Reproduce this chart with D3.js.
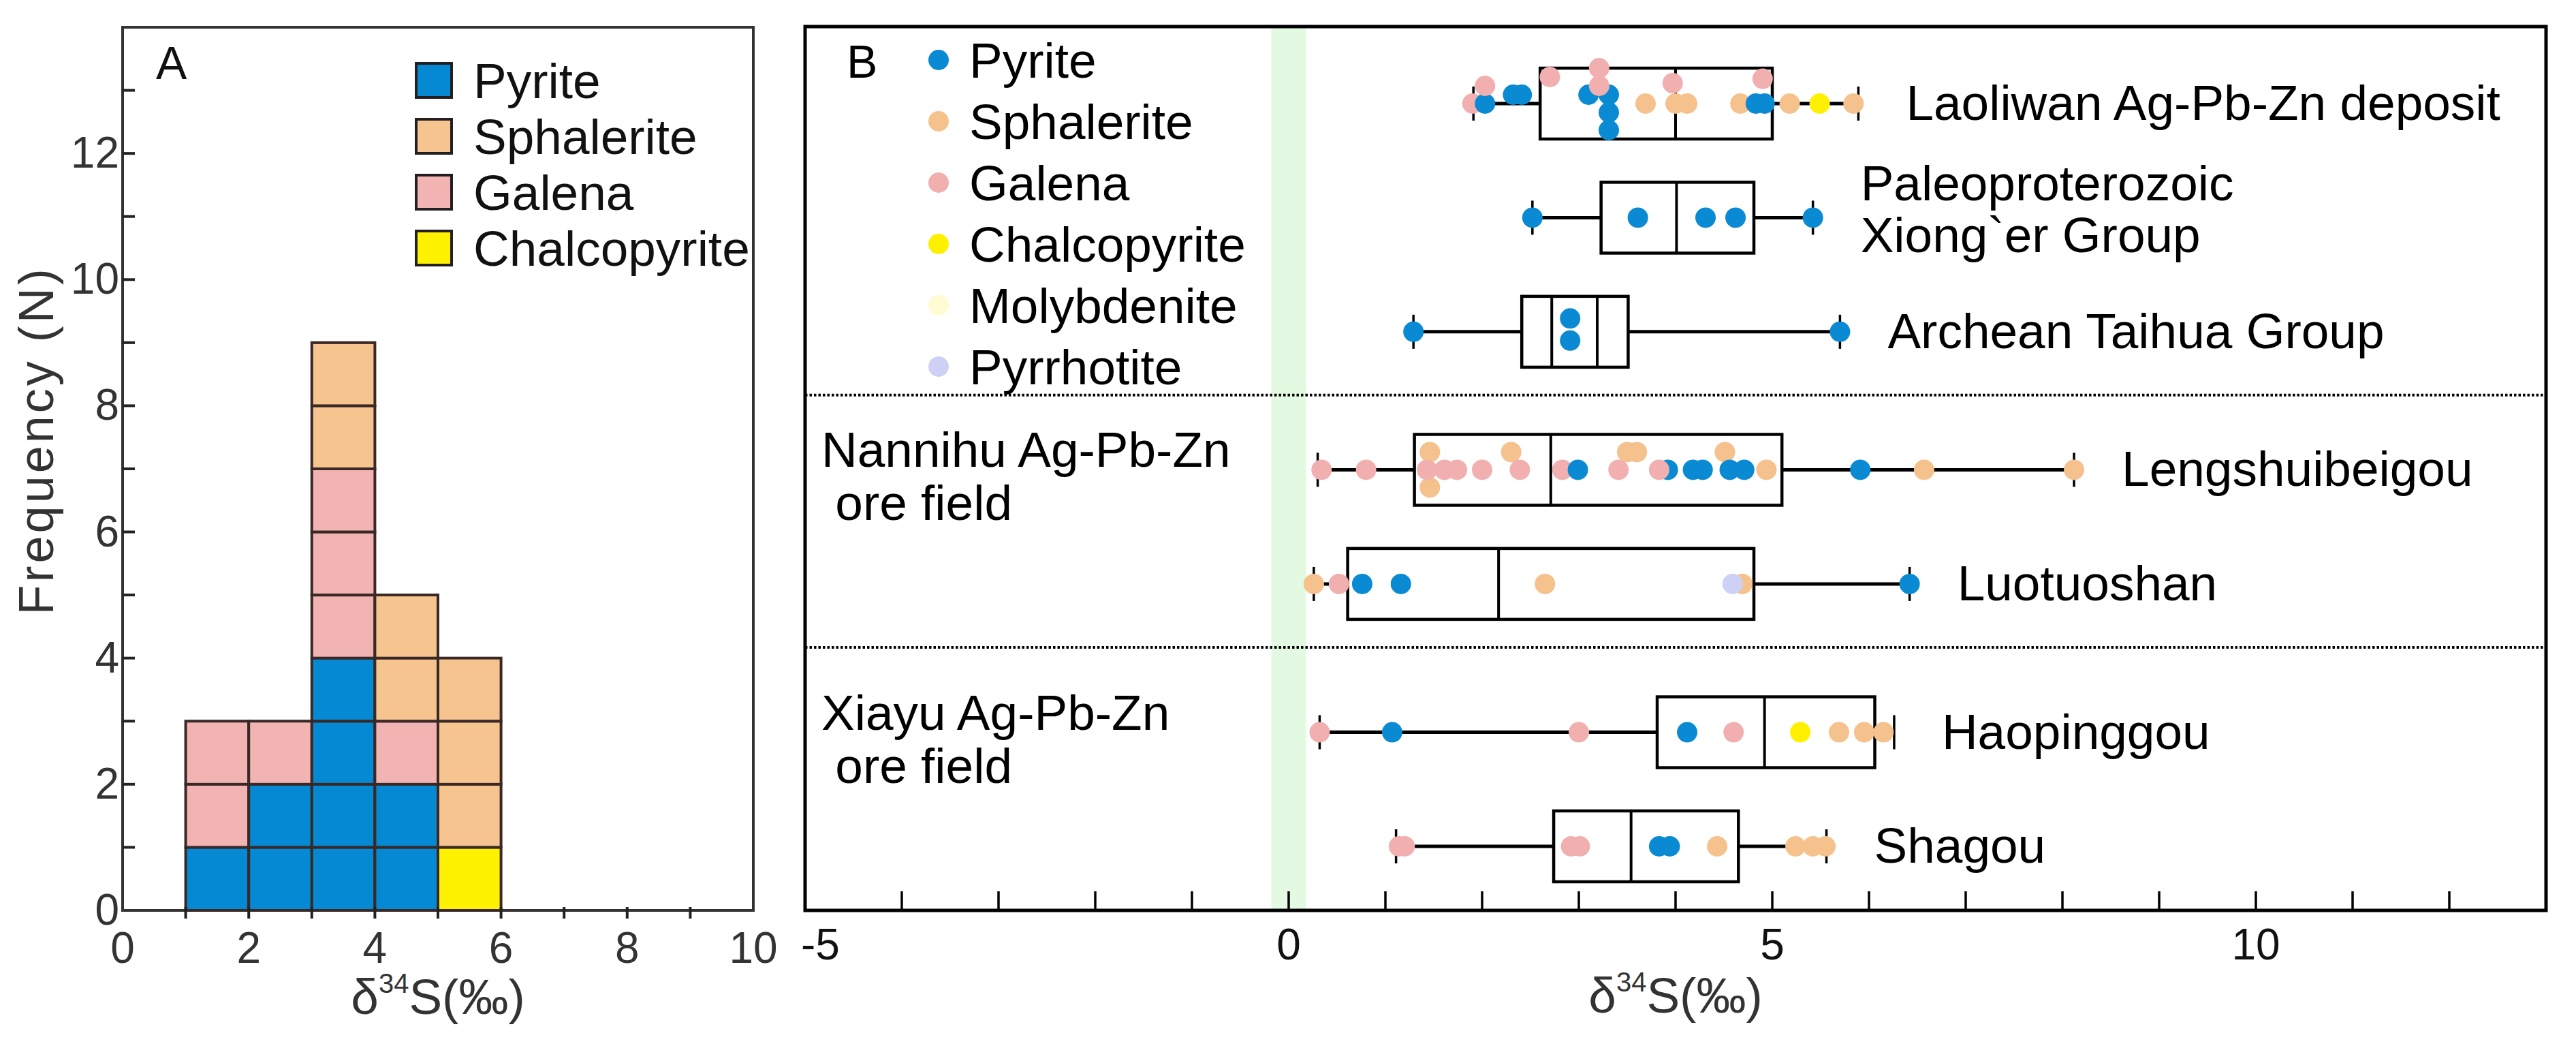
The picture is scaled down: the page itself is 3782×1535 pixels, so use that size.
<!DOCTYPE html>
<html>
<head>
<meta charset="utf-8">
<script src="https://cdn.jsdelivr.net/npm/d3@7"></script>
<style>
  body { margin: 0; background: #fff; }
  svg { display: block; }
  text { font-family: "Liberation Sans", Arial, sans-serif; }
</style>
</head>
<body>
<svg id="chart" width="3782" height="1535"></svg>
<script>
// ================= DATA =================
// ---- Panel A: histogram (bin width 1 ‰) ----
const binStarts = [1, 2, 3, 4, 5];
const countPyrite = [1, 2, 4, 2, 0];
const countChalcopyrite = [0, 0, 0, 0, 1];
const countGalena = [2, 1, 3, 1, 0];
const countSphalerite = [0, 0, 2, 2, 3];
const legendA = ["Pyrite", "Sphalerite", "Galena", "Chalcopyrite"];
const xTicksA = [0, 2, 4, 6, 8, 10];
const yTicksA = [0, 2, 4, 6, 8, 10, 12];

// ---- Panel B: box plots + individual analyses ----
const rowNames = [["Laoliwan Ag-Pb-Zn deposit"], ["Paleoproterozoic", "Xiong`er Group"],
  ["Archean Taihua Group"], ["Lengshuibeigou"], ["Luotuoshan"], ["Haopinggou"], ["Shagou"]];
const rowGroup = [0, 0, 0, 1, 1, 2, 2];
const groupLabels = [null, ["Nannihu Ag-Pb-Zn", " ore field"], ["Xiayu Ag-Pb-Zn", " ore field"]];
const boxMin    = [1.91, 2.52, 1.29, 0.30, 0.26, 0.32, 1.11];
const boxQ1     = [2.60, 3.23, 2.41, 1.30, 0.61, 3.81, 2.74];
const boxMedian = [4.00, 4.01, 2.72, 2.71, 2.17, 4.92, 3.54];
const boxQ3     = [5.00, 4.81, 3.51, 5.10, 4.81, 6.06, 4.65];
const boxMax    = [5.89, 5.42, 5.70, 8.12, 6.42, 6.26, 5.56];
const boxExtra  = [null, null, 3.19, null, null, null, null];

// points: [mineral, δ34S, stack lane (0 = on the whisker line, negative = stacked above)]
const ptsLaoliwan = [
  ["G",1.90,0],["P",2.03,0],["G",2.03,-2],["P",2.32,-1],["P",2.41,-1],["G",2.70,-3],
  ["P",3.10,-1],["P",3.31,-1],["P",3.31,1],["P",3.31,3],["G",3.21,-4],["G",3.21,-2],
  ["S",3.69,0],["G",3.97,-2.3],["S",4.00,0],["S",4.12,0],["S",4.67,0],["P",4.83,0],
  ["P",4.92,0],["G",4.90,-2.8],["S",5.18,0],["C",5.49,0],["S",5.84,0]];
const ptsXionger = [["P",2.52,0],["P",3.61,0],["P",4.31,0],["P",4.62,0],["P",5.42,0]];
const ptsTaihua = [["P",1.29,0],["P",2.91,-1.5],["P",2.91,1],["P",5.70,0]];
const ptsLengshuibeigou = [
  ["G",0.34,0],["G",0.80,0],["S",1.46,-2],["S",1.46,2],["G",1.43,0],["G",1.61,0],["G",1.74,0],
  ["G",2.00,0],["S",2.30,-2],["G",2.39,0],["G",2.83,0],["P",2.99,0],["G",3.41,0],
  ["S",3.50,-2],["S",3.60,-2],["P",3.92,0],["G",3.83,0],["P",4.18,0],["P",4.28,0],
  ["S",4.51,-2],["P",4.56,0],["P",4.71,0],["S",4.94,0],["P",5.91,0],["S",6.57,0],["S",8.12,0]];
const ptsLuotuoshan = [["S",0.26,0],["G",0.52,0],["P",0.76,0],["P",1.16,0],["S",2.65,0],
  ["S",4.69,0],["R",4.59,0],["P",6.42,0]];
const ptsHaopinggou = [["G",0.32,0],["P",1.07,0],["G",3.00,0],["P",4.12,0],["G",4.60,0],
  ["C",5.29,0],["S",5.69,0],["S",5.95,0],["S",6.15,0]];
const ptsShagou = [["G",1.14,0],["G",1.20,0],["G",2.92,0],["G",3.01,0],["P",3.83,0],["P",3.94,0],
  ["S",4.43,0],["S",5.24,0],["S",5.42,0],["S",5.55,0]];
const rowPoints = [ptsLaoliwan, ptsXionger, ptsTaihua, ptsLengshuibeigou, ptsLuotuoshan, ptsHaopinggou, ptsShagou];

const legendBNames = ["Pyrite", "Sphalerite", "Galena", "Chalcopyrite", "Molybdenite", "Pyrrhotite"];
const legendBCodes = ["P", "S", "G", "C", "M", "R"];
const xTicksBLabels = [-5, 0, 5, 10];

// ================= STYLE / LAYOUT =================
const colA = { Pyrite: "#0589d2", Sphalerite: "#f6c48f", Galena: "#f2b3b3", Chalcopyrite: "#fff200" };
const colB = { P: "#0a8ad2", S: "#f5c18c", G: "#f1afb0", C: "#fff000", M: "#fffbd2", R: "#cfd0f6" };
const FS = 73, FT = 64;
const groupGapBefore = [0, 0.21, 0.51];   // extra vertical space (in row units) before each group

const svg = d3.select("#chart");

// ================= PANEL A =================
const xA = d3.scaleLinear().domain([0, 10]).range([180, 1106]);
const yA = d3.scaleLinear().domain([0, 14]).range([1336, 40]);
const gA = svg.append("g");

gA.append("rect").attr("x", xA(0)).attr("y", yA(14))
  .attr("width", xA(10) - xA(0)).attr("height", yA(0) - yA(14))
  .attr("fill", "none").attr("stroke", "#333").attr("stroke-width", 4);

const stackOrder = [["Pyrite", countPyrite], ["Chalcopyrite", countChalcopyrite],
                    ["Galena", countGalena], ["Sphalerite", countSphalerite]];
const cells = [];
binStarts.forEach((b, i) => {
  let lvl = 0;
  stackOrder.forEach(([name, arr]) => {
    for (let k = 0; k < arr[i]; k++) { cells.push({ b, lvl, name }); lvl++; }
  });
});
gA.selectAll("rect.cell").data(cells).join("rect").attr("class", "cell")
  .attr("x", d => xA(d.b)).attr("y", d => yA(d.lvl + 1))
  .attr("width", d => xA(d.b + 1) - xA(d.b)).attr("height", d => yA(d.lvl) - yA(d.lvl + 1))
  .attr("fill", d => colA[d.name]).attr("stroke", "#3a2826").attr("stroke-width", 4);

gA.selectAll("line.yt").data(d3.range(1, 14)).join("line")
  .attr("x1", xA(0)).attr("x2", xA(0) + 18).attr("y1", d => yA(d)).attr("y2", d => yA(d))
  .attr("stroke", "#222").attr("stroke-width", 4);
gA.selectAll("line.xt").data(d3.range(1, 10)).join("line")
  .attr("x1", d => xA(d)).attr("x2", d => xA(d)).attr("y1", yA(0) - 5).attr("y2", yA(0) + 12)
  .attr("stroke", "#222").attr("stroke-width", 4);
gA.selectAll("text.yl").data(yTicksA).join("text")
  .attr("x", xA(0) - 5).attr("y", d => yA(d) + 21).attr("text-anchor", "end")
  .attr("font-size", FT).attr("fill", "#333").text(d => d);
gA.selectAll("text.xl").data(xTicksA).join("text")
  .attr("x", d => xA(d)).attr("y", 1413).attr("text-anchor", "middle")
  .attr("font-size", FT).attr("fill", "#333").text(d => d);

gA.append("text").attr("transform", `translate(78,${yA(7.45)}) rotate(-90)`)
  .attr("text-anchor", "middle").attr("font-size", 72).attr("letter-spacing", 4)
  .attr("fill", "#333").text("Frequency (N)");

function deltaLabel(g, x, y) {
  const t = g.append("text").attr("x", x).attr("y", y).attr("text-anchor", "middle")
    .attr("font-size", FS).attr("fill", "#333");
  t.append("tspan").text("δ");
  t.append("tspan").attr("font-size", 40).attr("dy", -31).text("34");
  t.append("tspan").attr("dy", 31).text("S(‰)");
}
deltaLabel(gA, (xA(0) + xA(10)) / 2, 1488);

gA.append("text").attr("x", 229).attr("y", 116).attr("font-size", 68).attr("fill", "#111").text("A");
const legA = gA.selectAll("g.legA").data(legendA).join("g")
  .attr("transform", (d, i) => `translate(611,${118 + i * 82})`);
legA.append("rect").attr("x", 0).attr("y", -25).attr("width", 52).attr("height", 50)
  .attr("fill", d => colA[d]).attr("stroke", "#231f20").attr("stroke-width", 4);
legA.append("text").attr("x", 84).attr("y", 26).attr("font-size", FS).attr("fill", "#111").text(d => d);

// ================= PANEL B =================
const xB = d3.scaleLinear().domain([-5, 13]).range([1182, 3738]);
const slot = i => i + groupGapBefore[rowGroup[i]];
const yB = d3.scaleLinear().domain([0, slot(6)]).range([152, 1242]);
const yTop = 39, yBot = 1336;
const gB = svg.append("g");

gB.append("rect").attr("x", xB(-0.18)).attr("y", yTop).attr("width", xB(0.18) - xB(-0.18))
  .attr("height", yBot - yTop).attr("fill", "#e4f9e1");

gB.append("rect").attr("x", xB(-5)).attr("y", yTop).attr("width", xB(13) - xB(-5))
  .attr("height", yBot - yTop).attr("fill", "none").attr("stroke", "#000").attr("stroke-width", 5);

const seps = [];
for (let i = 1; i < rowGroup.length; i++) {
  if (rowGroup[i] !== rowGroup[i - 1]) seps.push(yB(slot(i - 1)) + 93);
}
gB.selectAll("line.sep").data(seps).join("line")
  .attr("x1", xB(-5)).attr("x2", xB(13)).attr("y1", d => d).attr("y2", d => d)
  .attr("stroke", "#000").attr("stroke-width", 4).attr("stroke-dasharray", "3.5,3");

gB.selectAll("line.xt").data(d3.range(-4, 13)).join("line")
  .attr("x1", d => xB(d)).attr("x2", d => xB(d)).attr("y1", yBot).attr("y2", yBot - 28)
  .attr("stroke", "#000").attr("stroke-width", 3.5);
gB.selectAll("text.xl").data(xTicksBLabels).join("text")
  .attr("x", d => d === -5 ? xB(d) - 6 : xB(d)).attr("y", 1408)
  .attr("text-anchor", d => d === -5 ? "start" : "middle")
  .attr("font-size", FT).attr("fill", "#111").text(d => d);
deltaLabel(gB, xB(4), 1486);

const rows = d3.range(rowNames.length).map(i => ({
  i, yc: yB(slot(i)), min: boxMin[i], q1: boxQ1[i], med: boxMedian[i], q3: boxQ3[i],
  max: boxMax[i], extra: boxExtra[i], pts: rowPoints[i], name: rowNames[i]
}));
const HB = 52;
const rg = gB.selectAll("g.row").data(rows).join("g").attr("class", "row");
rg.append("line").attr("x1", d => xB(d.min)).attr("x2", d => xB(d.q1))
  .attr("y1", d => d.yc).attr("y2", d => d.yc).attr("stroke", "#000").attr("stroke-width", 5);
rg.append("line").attr("x1", d => xB(d.q3)).attr("x2", d => xB(d.max))
  .attr("y1", d => d.yc).attr("y2", d => d.yc).attr("stroke", "#000").attr("stroke-width", 5);
rg.append("line").attr("x1", d => xB(d.min)).attr("x2", d => xB(d.min))
  .attr("y1", d => d.yc - 25).attr("y2", d => d.yc + 25).attr("stroke", "#000").attr("stroke-width", 3.5);
rg.append("line").attr("x1", d => xB(d.max)).attr("x2", d => xB(d.max))
  .attr("y1", d => d.yc - 25).attr("y2", d => d.yc + 25).attr("stroke", "#000").attr("stroke-width", 3.5);
rg.append("rect").attr("x", d => xB(d.q1)).attr("y", d => d.yc - HB)
  .attr("width", d => xB(d.q3) - xB(d.q1)).attr("height", 2 * HB)
  .attr("fill", "none").attr("stroke", "#000").attr("stroke-width", 4.5);
rg.append("line").attr("x1", d => xB(d.med)).attr("x2", d => xB(d.med))
  .attr("y1", d => d.yc - HB).attr("y2", d => d.yc + HB).attr("stroke", "#000").attr("stroke-width", 4);
rg.filter(d => d.extra != null).append("line").attr("x1", d => xB(d.extra)).attr("x2", d => xB(d.extra))
  .attr("y1", d => d.yc - HB).attr("y2", d => d.yc + HB).attr("stroke", "#000").attr("stroke-width", 4);

const LANE = 13;
rg.selectAll("circle").data(d => d.pts.map(p => ({ code: p[0], v: p[1], lane: p[2], yc: d.yc })))
  .join("circle").attr("cx", d => xB(d.v)).attr("cy", d => d.yc + d.lane * LANE)
  .attr("r", 15).attr("fill", d => colB[d.code]);

rg.each(function (d) {
  const g = d3.select(this);
  const x = xB(d.max) + 70;
  if (d.name.length === 1) {
    g.append("text").attr("x", x).attr("y", d.yc + 24).attr("font-size", FS).text(d.name[0]);
  } else {
    g.append("text").attr("x", x).attr("y", d.yc - 25).attr("font-size", FS).text(d.name[0]);
    g.append("text").attr("x", x).attr("y", d.yc + 51).attr("font-size", FS).text(d.name[1]);
  }
});

groupLabels.forEach((lab, g) => {
  if (!lab) return;
  const first = rowGroup.indexOf(g);
  const y0 = yB(slot(first));
  gB.append("text").attr("x", 1206).attr("y", y0 - 4).attr("font-size", FS).text(lab[0]);
  gB.append("text").attr("x", 1206).attr("y", y0 + 74).attr("font-size", FS)
    .attr("xml:space", "preserve").style("white-space", "pre").text(lab[1]);
});

gB.append("text").attr("x", 1243).attr("y", 114).attr("font-size", 68).text("B");
const legB = gB.selectAll("g.legB").data(legendBNames).join("g")
  .attr("transform", (d, i) => `translate(1378,${88 + i * 90})`);
legB.append("circle").attr("r", 15).attr("fill", (d, i) => colB[legendBCodes[i]]);
legB.append("text").attr("x", 45).attr("y", 26).attr("font-size", FS).text(d => d);
</script>
</body>
</html>
